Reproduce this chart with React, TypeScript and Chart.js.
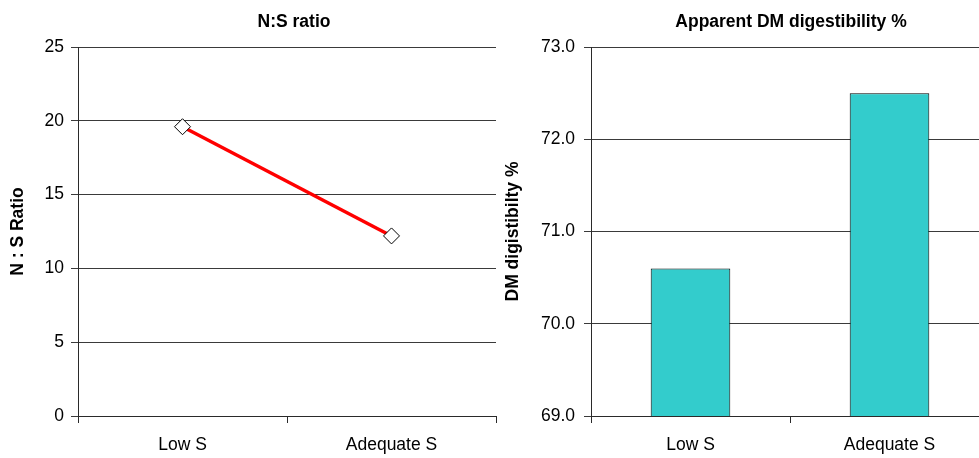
import React, { useEffect, useRef } from 'react';
import { Chart, registerables } from 'chart.js';

Chart.register(...registerables);

// Treatments and measured values
const categories = ['Low S', 'Adequate S'];
const nsRatio = [19.6, 12.2];
const dmDigestibility = [70.6, 72.5];

// Axis ranges
const nsMin = 0;
const nsMax = 25;
const nsStep = 5;
const dmMin = 69;
const dmMax = 73;
const dmStep = 1;

const FONT = "'Liberation Sans', Arial, Helvetica, sans-serif";
const SIZE = 17.5;
const GRID = '#3a3a3a';
const AXIS = '#2a2a2a';

// Draws a bold heading at a fixed point above the plot
const headline = {
  id: 'headline',
  afterDraw(chart: any, _args: any, opts: any) {
    const { ctx } = chart;
    ctx.save();
    ctx.font = `bold ${SIZE}px ${FONT}`;
    ctx.fillStyle = '#000';
    ctx.textAlign = 'center';
    ctx.textBaseline = 'middle';
    ctx.fillText(opts.text, opts.x, opts.y);
    ctx.restore();
  },
};

function xScale(extra: any = {}) {
  return {
    type: 'category',
    offset: true,
    grid: {
      offset: true,
      drawOnChartArea: false,
      drawTicks: true,
      tickLength: 7,
      color: AXIS,
    },
    border: { display: true, color: AXIS, width: 1 },
    ticks: { padding: 12, color: '#000', font: { family: FONT, size: SIZE } },
    afterFit: (s: any) => {
      s.height = 42;
      s.paddingLeft = 0;
      s.paddingRight = 0;
    },
    ...extra,
  };
}

function NSChart() {
  const ref = useRef<HTMLCanvasElement>(null);
  useEffect(() => {
    const chart = new Chart(ref.current!, {
      type: 'line',
      data: {
        labels: categories,
        datasets: [
          {
            data: nsRatio,
            borderColor: '#FF0000',
            borderWidth: 3.5,
            pointStyle: 'rectRot',
            pointRadius: 8,
            pointBackgroundColor: '#FFFFFF',
            pointBorderColor: '#000000',
            pointBorderWidth: 1,
            tension: 0,
          },
        ],
      },
      plugins: [headline],
      options: {
        responsive: false,
        animation: false,
        layout: {
          autoPadding: false,
          padding: { top: 47, right: 4, bottom: 0, left: 0 },
        },
        plugins: {
          legend: { display: false },
          tooltip: { enabled: false },
          headline: { text: 'N:S ratio', x: 294, y: 22 },
        } as any,
        scales: {
          x: xScale(),
          y: {
            min: nsMin,
            max: nsMax,
            ticks: {
              stepSize: nsStep,
              padding: 7,
              color: '#000',
              font: { family: FONT, size: SIZE },
            },
            grid: { color: GRID, tickLength: 7, drawTicks: true },
            border: { display: true, color: AXIS, width: 1 },
            title: {
              display: true,
              text: 'N : S Ratio',
              color: '#000',
              font: { family: FONT, size: SIZE, weight: 'bold' },
              padding: { top: 8, bottom: 0 },
            },
            afterFit: (s: any) => {
              s.width = 78;
            },
          },
        } as any,
      },
    });
    return () => chart.destroy();
  }, []);
  return (
    <canvas
      ref={ref}
      width={500}
      height={458}
      style={{ position: 'absolute', left: 0, top: 0, width: 500, height: 458 }}
    />
  );
}

function DMChart() {
  const ref = useRef<HTMLCanvasElement>(null);
  useEffect(() => {
    const chart = new Chart(ref.current!, {
      type: 'bar',
      data: {
        labels: categories,
        datasets: [
          {
            data: dmDigestibility,
            backgroundColor: '#33CCCC',
            borderColor: '#000000',
            borderWidth: 1,
            barPercentage: 0.4,
            categoryPercentage: 1,
          },
        ],
      },
      plugins: [headline],
      options: {
        responsive: false,
        animation: false,
        layout: {
          autoPadding: false,
          padding: { top: 47, right: 11, bottom: 0, left: 0 },
        },
        plugins: {
          legend: { display: false },
          tooltip: { enabled: false },
          headline: { text: 'Apparent DM digestibility %', x: 291, y: 22 },
        } as any,
        scales: {
          x: xScale(),
          y: {
            min: dmMin,
            max: dmMax,
            ticks: {
              stepSize: dmStep,
              padding: 9,
              color: '#000',
              font: { family: FONT, size: SIZE },
              callback: (v: any) => Number(v).toFixed(1),
            },
            grid: { color: GRID, tickLength: 7, drawTicks: true },
            border: { display: true, color: AXIS, width: 1 },
            title: {
              display: true,
              text: 'DM digistibilty %',
              color: '#000',
              font: { family: FONT, size: SIZE, weight: 'bold' },
              padding: { top: 3, bottom: 0 },
            },
            afterFit: (s: any) => {
              s.width = 91;
            },
          },
        } as any,
      },
    });
    return () => chart.destroy();
  }, []);
  return (
    <canvas
      ref={ref}
      width={500}
      height={458}
      style={{ position: 'absolute', left: 500, top: 0, width: 500, height: 458 }}
    />
  );
}

export default function App() {
  return (
    <div
      style={{
        position: 'absolute',
        left: 0,
        top: 0,
        width: 979,
        height: 458,
        overflow: 'hidden',
        background: '#FFFFFF',
      }}
    >
      <NSChart />
      <DMChart />
    </div>
  );
}
